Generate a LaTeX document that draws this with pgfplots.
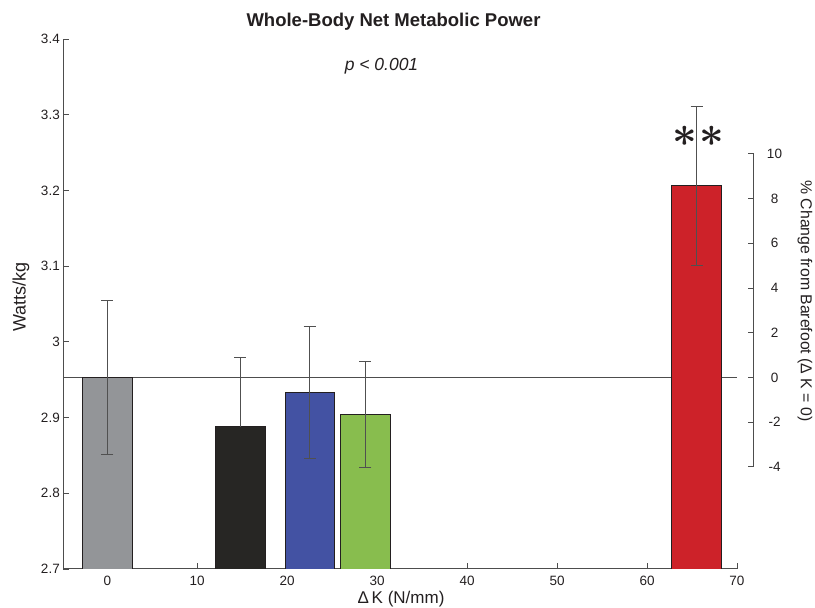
\documentclass[border=0pt]{standalone}
\usepackage{fontspec}
\setmainfont{Liberation Sans}
\usepackage{pgfplots}
\pgfplotsset{compat=1.18}
\definecolor{cgray}{HTML}{939598}
\definecolor{cblack}{HTML}{272624}
\definecolor{cblue}{HTML}{4352A3}
\definecolor{cgreen}{HTML}{88BD4E}
\definecolor{cred}{HTML}{CD2229}
\definecolor{ink}{HTML}{231F20}
\definecolor{axisc}{HTML}{4D4D4D}
\definecolor{errc}{HTML}{505050}
\pgfplotsset{
  mybar/.style={ybar, bar width=49.4pt, bar shift=0pt, fill=#1, draw=ink, line width=0.8pt,
    error bars/.cd, y dir=both, y explicit,
    error bar style={draw=errc, line width=0.8pt},
    error mark options={rotate=90, mark size=6pt, draw=errc, line width=0.8pt}}
}
\begin{document}
\begin{tikzpicture}
\useasboundingbox (-63.3pt,-39pt) rectangle (751.7pt,569pt);
\begin{axis}[
  at={(0pt,0pt)}, anchor=south west,
  scale only axis, width=673.7pt, height=530pt,
  xmin=-4.89, xmax=70, ymin=2.7, ymax=3.4,
  axis x line*=bottom, axis y line*=left,
  axis line style={draw=axisc, line width=1pt},
  tick align=inside, major tick length=6pt,
  tick style={draw=axisc, line width=0.8pt},
  xtick={0,10,20,30,40,50,60,70},
  xticklabels={0,10,20,30,40,50,60,70},
  ytick={2.7,2.8,2.9,3,3.1,3.2,3.3,3.4},
  yticklabels={2.7,2.8,2.9,3,3.1,3.2,3.3,3.4},
  tick label style={font=\fontsize{13.5}{15}\selectfont, text=ink},
  xticklabel style={yshift=-4pt},
  /pgf/number format/assume math mode=true,
]
\addplot[draw=axisc, line width=0.9pt] coordinates {(-4.89,2.953) (70,2.953)};
\addplot[mybar=cgray] coordinates {(0,2.953) +- (0,0.102)};
\addplot[mybar=cblack, /pgfplots/error bars/y dir=plus] coordinates {(14.8,2.888) +- (0,0.091)};
\addplot[mybar=cblue] coordinates {(22.5,2.933) +- (0,0.087)};
\addplot[mybar=cgreen] coordinates {(28.7,2.904) +- (0,0.070)};
\addplot[mybar=cred] coordinates {(65.5,3.206) +- (0,0.105)};
\node[scale=4.3, text=ink, font=\boldmath] at (axis cs:64.16,3.2713) {$\ast$};
\node[scale=4.3, text=ink, font=\boldmath] at (axis cs:67.16,3.2713) {$\ast$};
\end{axis}
\begin{axis}[
  at={(0pt,0pt)}, anchor=south west,
  scale only axis, width=690.2pt, height=530pt,
  xmin=-4.89, xmax=71.83, ymin=-8.567, ymax=15.137,
  hide x axis, axis y line*=right,
  y axis line style={draw=none},
  ytick={-4,-2,0,2,4,6,8,10},
  yticklabels={-4,-2,0,2,4,6,8,10},
  tick align=inside, major tick length=6pt,
  tick style={draw=axisc, line width=0.8pt},
  yticklabel style={font=\fontsize{13.5}{15}\selectfont, text=ink, anchor=center, xshift=21pt},
  /pgf/number format/assume math mode=true,
  clip=false,
]
\draw[axisc, line width=1pt] (axis cs:71.83,-4) -- (axis cs:71.83,10);
\end{axis}
\node[font=\bfseries\fontsize{18.5}{20}\selectfont, text=ink] at (330.2pt,547pt) {Whole-Body Net Metabolic Power};
\node[font=\itshape\fontsize{17.5}{18}\selectfont, text=ink] at (318.2pt,503pt) {p < 0.001};
\node[rotate=90, font=\fontsize{18}{20}\selectfont, text=ink] at (-42.3pt,272pt) {Watts/kg};
\node[font=\fontsize{17}{18}\selectfont, text=ink] at (337.7pt,-30.5pt) {Δ\,K (N/mm)};
\node[rotate=-90, font=\fontsize{15.8}{17}\selectfont, text=ink] at (741.7pt,268pt) {\% Change from Barefoot (Δ K = 0)};
\end{tikzpicture}
\end{document}
